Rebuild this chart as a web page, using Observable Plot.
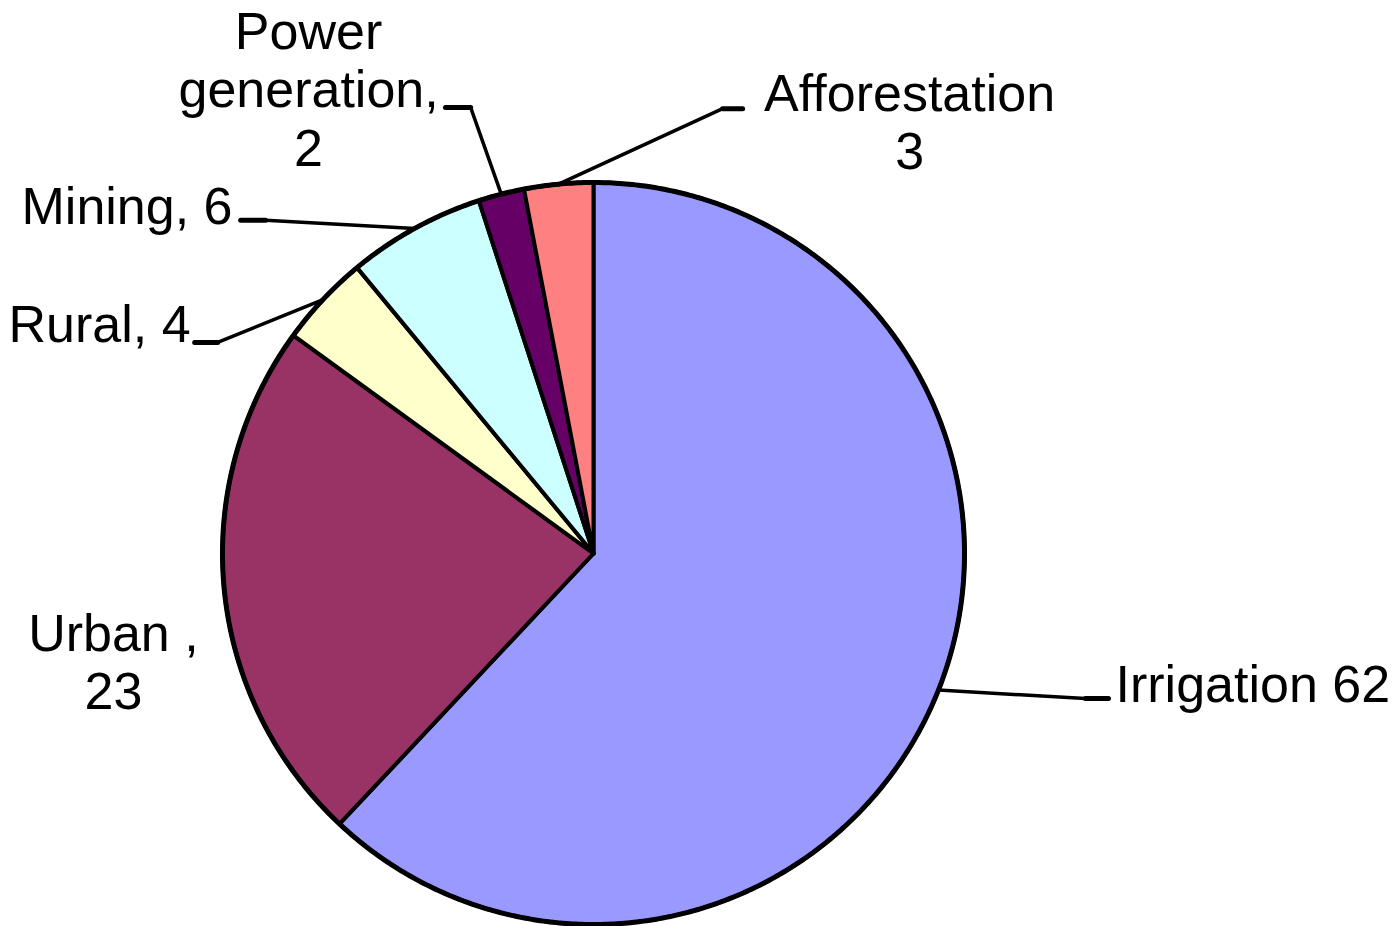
<!DOCTYPE html>
<html><head><meta charset="utf-8">
<script src="https://cdn.jsdelivr.net/npm/d3@7"></script>
<script src="https://cdn.jsdelivr.net/npm/@observablehq/plot@0.6"></script>
<style>body{margin:0;background:#fff;overflow:hidden}</style>
</head><body><div id="chart"></div>
<script>
// ---- data ----
const categories = ["Irrigation", "Urban", "Rural", "Mining", "Power generation", "Afforestation"];
const values = [62, 23, 4, 6, 2, 3];
const labelTexts = ["Irrigation 62", "Urban ,\n23", "Rural, 4", "Mining, 6", "Power\ngeneration,\n2", "Afforestation\n3"];
const colors = ["#9999FF", "#993366", "#FFFFCC", "#CCFFFF", "#660066", "#FF8080"];

// ---- layout (units of pie radius, origin at pie centre, y up) ----
const labelX = [1.407, -1.294, -1.086, -0.973, -0.768, 0.852];
const labelY = [-0.350, -0.291, 0.620, 0.938, 1.253, 1.164];
const labelAnchor = ["start", "middle", "end", "end", "middle", "middle"];
const elbowX = [1.326, null, -1.013, -0.884, -0.331, 0.348];
const elbowY = [-0.391, null, 0.569, 0.898, 1.202, 1.199];
const tickX = [1.388, null, -1.075, -0.951, -0.399, 0.402];

const W = 1399, H = 926, cx = 593, cy = 553, R = 371;

const arcs = d3.pie().sort(null).startAngle(0).endAngle(2 * Math.PI)(values);
const slicePts = [], rimPts = [];
arcs.forEach((a, i) => {
  const cat = categories[i];
  slicePts.push({cat, x: 0, y: 0});
  const n = Math.max(2, Math.ceil((a.endAngle - a.startAngle) / (Math.PI / 360)));
  for (let k = 0; k <= n; k++) {
    const t = a.startAngle + (a.endAngle - a.startAngle) * k / n;
    slicePts.push({cat, x: Math.sin(t), y: Math.cos(t)});
    rimPts.push({x: Math.sin(t), y: Math.cos(t)});
  }
});

const leaders = [], ticks = [];
arcs.forEach((a, i) => {
  if (elbowX[i] == null) return;
  const m = (a.startAngle + a.endAngle) / 2;
  leaders.push({id: i, x: Math.sin(m), y: Math.cos(m)});
  leaders.push({id: i, x: elbowX[i], y: elbowY[i]});
  ticks.push({id: i, x: elbowX[i], y: elbowY[i]});
  ticks.push({id: i, x: tickX[i], y: elbowY[i]});
});

const labels = categories.map((c, i) => ({cat: c, text: labelTexts[i], x: labelX[i], y: labelY[i], anchor: labelAnchor[i]}));

const chart = Plot.plot({
  width: W, height: H, margin: 0,
  style: {fontFamily: "'Liberation Sans', Arial, sans-serif", background: "white"},
  x: {domain: [-1, 1], range: [cx - R, cx + R], axis: null},
  y: {domain: [-1, 1], range: [cy + R, cy - R], axis: null},
  color: {domain: categories, range: colors},
  marks: [
    Plot.line(slicePts, {x: "x", y: "y", z: "cat", fill: "cat", stroke: "black", strokeWidth: 4, strokeLinejoin: "round", curve: "linear-closed"}),
    Plot.line(rimPts, {x: "x", y: "y", stroke: "black", strokeWidth: 5, curve: "linear-closed"}),
    Plot.line(leaders, {x: "x", y: "y", z: "id", stroke: "black", strokeWidth: 3.5}),
    Plot.line(ticks, {x: "x", y: "y", z: "id", stroke: "black", strokeWidth: 5}),
    ...["start", "middle", "end"].map(an =>
      Plot.text(labels.filter(d => d.anchor === an), {x: "x", y: "y", text: "text", textAnchor: an, fontSize: 52, lineHeight: 1.12, fill: "black"})
    )
  ]
});
document.getElementById("chart").append(chart);
</script>
</body></html>
